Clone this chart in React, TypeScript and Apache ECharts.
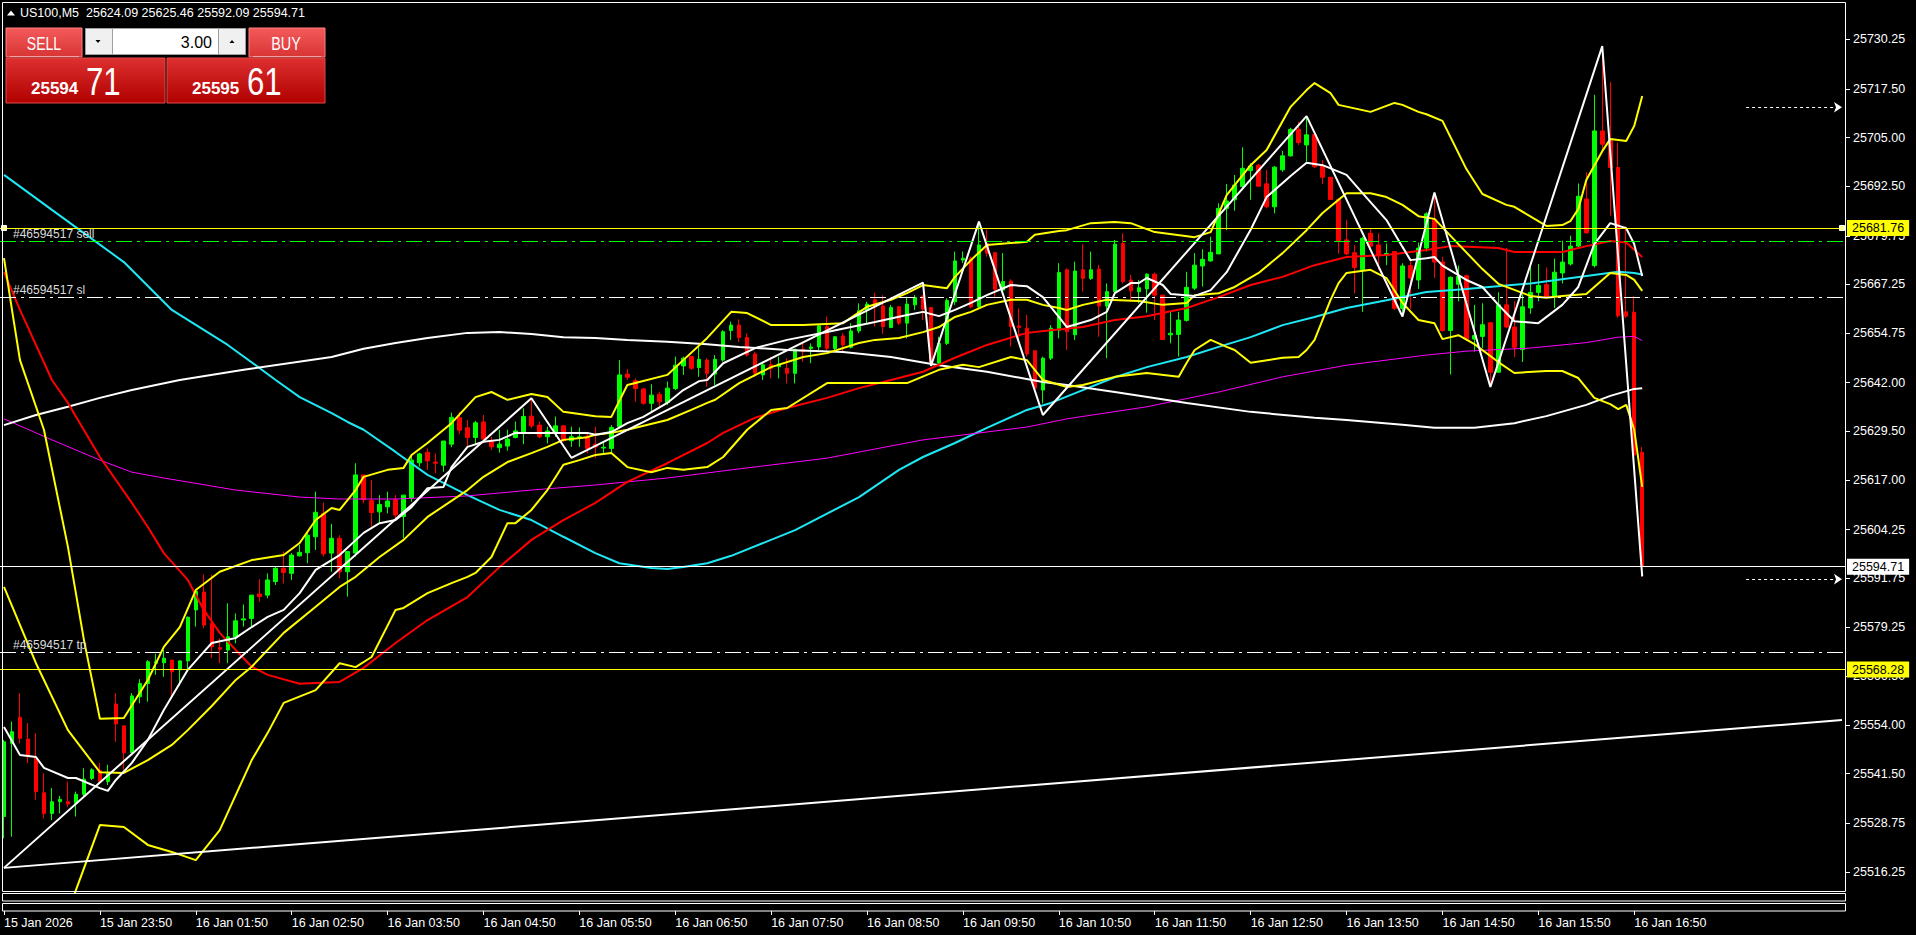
import React, { useEffect, useRef } from 'react';
import * as echarts from 'echarts';

const FONT = '"Liberation Sans", Arial, sans-serif';

// ---------- OHLC (M5 bars, left to right) ----------
const opens = [
  25530.5, 25549.3, 25556.0, 25550.4, 25545.5, 25536.6, 25531.3, 25534.3, 25534.3, 25533.9,
  25536.2, 25540.3, 25542.3, 25539.5, 25559.4, 25553.8, 25546.9, 25561.3, 25564.7, 25569.9,
  25570.0, 25570.7, 25568.2, 25570.5, 25583.6, 25588.2, 25580.2, 25573.9, 25573.3, 25576.7,
  25581.0, 25581.4, 25587.7, 25587.4, 25590.9, 25594.3, 25593.0, 25597.5, 25598.3, 25602.4,
  25608.4, 25598.2, 25602.0, 25593.4, 25598.2, 25618.3, 25611.7, 25608.8, 25610.1, 25611.9,
  25607.6, 25612.3, 25621.4, 25624.1, 25621.6, 25620.8, 25626.2, 25633.0, 25630.4, 25627.9,
  25631.9, 25626.8, 25625.3, 25625.7, 25627.9, 25629.4, 25633.4, 25631.1, 25628.1, 25629.0,
  25630.9, 25627.1, 25627.7, 25628.3, 25626.2, 25625.2, 25625.1, 25630.7, 25644.2, 25642.5,
  25640.4, 25636.7, 25639.0, 25636.9, 25640.5, 25646.3, 25648.7, 25645.9, 25647.8, 25644.2,
  25647.8, 25655.4, 25656.8, 25653.6, 25649.4, 25644.0, 25646.6, 25646.1, 25645.7, 25644.4,
  25650.6, 25650.8, 25651.2, 25656.4, 25650.8, 25654.0, 25651.1, 25655.3, 25660.7, 25663.3,
  25661.7, 25656.2, 25661.5, 25657.3, 25662.0, 25664.3, 25661.3, 25647.0, 25652.1, 25662.8,
  25673.5, 25674.0, 25661.5, 25677.8, 25675.4, 25665.8, 25668.1, 25656.6, 25656.0, 25650.2,
  25640.1, 25648.3, 25655.5, 25671.0, 25654.3, 25671.0, 25668.8, 25671.2, 25661.7, 25665.4,
  25677.8, 25668.4, 25665.4, 25666.1, 25669.9, 25664.5, 25654.3, 25654.4, 25658.0, 25666.3,
  25672.0, 25673.3, 25675.1, 25686.8, 25689.0, 25692.4, 25696.5, 25697.9, 25693.1, 25687.2,
  25696.7, 25700.3, 25707.1, 25703.1, 25705.8, 25697.7, 25694.8, 25689.1, 25678.7, 25675.4,
  25671.1, 25680.4, 25677.4, 25674.8, 25675.7, 25661.1, 25672.1, 25668.4, 25676.6, 25684.0,
  25673.0, 25655.4, 25667.3, 25669.5, 25653.2, 25653.9, 25657.4, 25644.7, 25662.0, 25656.3,
  25650.5, 25661.2, 25665.2, 25667.2, 25664.3, 25670.2, 25672.5, 25677.1, 25689.2, 25672.1,
  25706.7, 25704.2, 25697.3, 25660.2, 25660.1, 25624.09,
];
const highs = [
  25550.2, 25554.9, 25562.2, 25554.5, 25551.9, 25541.6, 25537.8, 25535.8, 25539.5, 25536.9,
  25542.9, 25542.9, 25544.3, 25543.8, 25562.2, 25553.8, 25562.2, 25565.8, 25570.7, 25572.3,
  25573.3, 25570.7, 25570.7, 25581.9, 25588.7, 25592.7, 25592.7, 25576.3, 25585.3, 25582.7,
  25585.0, 25587.4, 25591.5, 25593.0, 25594.7, 25598.6, 25598.2, 25600.3, 25603.3, 25614.0,
  25611.2, 25605.7, 25602.8, 25598.6, 25621.3, 25618.3, 25617.0, 25613.1, 25614.0, 25613.1,
  25613.1, 25623.4, 25624.0, 25625.1, 25623.8, 25627.0, 25634.3, 25634.5, 25632.4, 25632.2,
  25633.7, 25628.1, 25629.9, 25629.9, 25632.0, 25635.4, 25637.6, 25632.0, 25630.7, 25633.3,
  25631.1, 25630.7, 25630.5, 25629.0, 25630.7, 25626.8, 25631.1, 25647.8, 25645.5, 25643.1,
  25640.6, 25641.6, 25639.7, 25642.3, 25648.7, 25648.7, 25648.9, 25651.7, 25648.3, 25649.1,
  25655.5, 25657.7, 25658.3, 25654.7, 25650.0, 25647.4, 25648.7, 25648.7, 25648.3, 25650.6,
  25652.5, 25652.1, 25656.8, 25659.0, 25654.0, 25654.7, 25657.3, 25662.4, 25662.8, 25665.1,
  25664.5, 25662.0, 25661.7, 25664.1, 25664.5, 25664.5, 25661.5, 25653.8, 25663.7, 25675.7,
  25675.7, 25674.4, 25683.4, 25681.4, 25675.4, 25675.3, 25668.6, 25661.1, 25659.4, 25650.4,
  25648.7, 25656.8, 25672.7, 25671.4, 25673.1, 25677.6, 25675.7, 25672.3, 25667.5, 25678.7,
  25680.4, 25669.7, 25668.4, 25670.1, 25670.3, 25664.5, 25660.2, 25660.2, 25670.5, 25675.3,
  25676.3, 25679.5, 25688.1, 25693.1, 25695.4, 25702.5, 25698.4, 25698.2, 25696.7, 25697.7,
  25701.6, 25707.5, 25709.1, 25710.5, 25706.1, 25699.2, 25694.8, 25689.4, 25683.8, 25677.4,
  25679.5, 25681.7, 25680.4, 25677.8, 25675.8, 25672.7, 25673.9, 25678.0, 25685.8, 25690.9,
  25674.4, 25669.3, 25672.1, 25669.8, 25662.0, 25662.4, 25657.6, 25665.2, 25676.6, 25662.9,
  25664.7, 25673.0, 25672.5, 25671.6, 25673.9, 25678.5, 25679.8, 25693.2, 25696.1, 25716.0,
  25728.5, 25719.3, 25703.7, 25682.2, 25664.3, 25625.46,
];
const lows = [
  25524.9, 25525.3, 25549.3, 25544.2, 25534.8, 25530.0, 25529.6, 25531.3, 25533.0, 25530.5,
  25535.6, 25539.9, 25539.0, 25538.6, 25549.7, 25542.5, 25546.8, 25559.6, 25560.0, 25566.9,
  25566.4, 25560.9, 25564.1, 25567.7, 25579.3, 25578.9, 25571.2, 25569.9, 25569.9, 25575.0,
  25579.3, 25579.3, 25585.7, 25586.6, 25590.0, 25590.4, 25591.3, 25597.3, 25595.6, 25599.0,
  25597.3, 25593.4, 25591.7, 25587.0, 25597.3, 25611.0, 25605.0, 25605.9, 25608.4, 25606.7,
  25602.0, 25611.4, 25620.4, 25619.6, 25618.7, 25619.1, 25625.4, 25628.8, 25625.5, 25626.0,
  25626.4, 25624.7, 25624.0, 25624.5, 25627.7, 25626.2, 25630.3, 25627.7, 25626.4, 25628.1,
  25626.8, 25625.5, 25625.5, 25623.8, 25622.6, 25623.8, 25623.8, 25630.3, 25642.7, 25637.1,
  25636.3, 25634.5, 25635.4, 25636.3, 25640.1, 25644.0, 25645.3, 25643.5, 25641.0, 25641.4,
  25647.4, 25653.0, 25652.5, 25648.7, 25643.5, 25642.7, 25643.1, 25643.1, 25641.8, 25641.8,
  25647.4, 25647.0, 25650.4, 25650.4, 25650.4, 25649.6, 25650.8, 25654.7, 25657.3, 25656.4,
  25654.5, 25656.0, 25656.8, 25653.4, 25660.7, 25658.1, 25647.1, 25646.6, 25651.7, 25662.0,
  25672.7, 25661.1, 25661.1, 25674.4, 25663.7, 25665.4, 25651.3, 25652.1, 25648.7, 25640.1,
  25636.7, 25647.8, 25653.4, 25650.4, 25653.0, 25665.4, 25668.4, 25653.8, 25648.3, 25665.0,
  25667.5, 25662.8, 25662.4, 25660.0, 25658.1, 25653.0, 25652.1, 25648.7, 25657.7, 25665.8,
  25666.7, 25673.1, 25675.1, 25681.2, 25686.2, 25691.5, 25689.0, 25692.4, 25686.8, 25685.5,
  25696.2, 25700.1, 25703.1, 25698.8, 25697.1, 25693.0, 25689.0, 25675.2, 25674.8, 25665.0,
  25660.2, 25676.5, 25671.0, 25672.2, 25660.7, 25659.0, 25661.0, 25666.1, 25675.7, 25668.9,
  25655.1, 25644.1, 25662.9, 25652.8, 25650.0, 25650.9, 25640.9, 25644.5, 25656.0, 25648.6,
  25647.3, 25659.7, 25662.9, 25663.8, 25661.2, 25667.5, 25672.1, 25676.8, 25680.3, 25671.6,
  25701.8, 25684.9, 25658.7, 25658.6, 25622.9, 25592.09,
];
const closes = [
  25549.7, 25552.3, 25550.6, 25546.3, 25536.9, 25531.3, 25534.3, 25534.9, 25533.7, 25536.2,
  25540.1, 25542.5, 25539.5, 25541.6, 25554.3, 25546.9, 25561.5, 25564.7, 25570.3, 25570.3,
  25571.2, 25567.7, 25570.5, 25581.7, 25588.4, 25579.7, 25574.1, 25573.5, 25576.7, 25580.8,
  25581.3, 25587.4, 25587.0, 25591.3, 25594.3, 25593.2, 25597.7, 25598.4, 25602.8, 25608.7,
  25598.0, 25602.0, 25593.4, 25598.6, 25618.3, 25611.9, 25608.6, 25610.7, 25611.6, 25608.0,
  25613.1, 25622.1, 25623.7, 25621.9, 25621.3, 25627.0, 25633.1, 25629.8, 25627.9, 25631.7,
  25627.5, 25625.5, 25626.2, 25627.5, 25629.6, 25633.3, 25630.9, 25628.1, 25629.6, 25630.9,
  25627.1, 25628.1, 25628.1, 25625.1, 25625.5, 25625.4, 25630.5, 25644.0, 25643.4, 25640.5,
  25636.7, 25638.8, 25637.1, 25640.6, 25646.5, 25648.3, 25645.7, 25648.0, 25644.4, 25648.0,
  25655.1, 25656.8, 25653.6, 25649.1, 25644.4, 25646.6, 25645.7, 25646.8, 25644.4, 25650.6,
  25650.0, 25651.2, 25656.6, 25650.8, 25653.8, 25651.7, 25655.3, 25660.5, 25662.2, 25661.5,
  25656.4, 25661.3, 25657.3, 25662.2, 25663.9, 25660.9, 25647.4, 25652.1, 25663.1, 25673.3,
  25674.0, 25661.5, 25677.4, 25675.3, 25666.0, 25668.0, 25656.4, 25656.2, 25649.4, 25640.6,
  25648.3, 25656.0, 25670.3, 25655.1, 25670.7, 25668.8, 25671.0, 25661.7, 25665.4, 25677.6,
  25668.0, 25665.6, 25666.4, 25669.9, 25664.5, 25653.1, 25654.7, 25658.1, 25666.5, 25672.2,
  25673.7, 25675.5, 25686.8, 25688.7, 25692.8, 25697.1, 25697.7, 25692.5, 25687.2, 25697.4,
  25700.3, 25707.1, 25703.7, 25705.7, 25697.5, 25694.8, 25689.1, 25678.5, 25675.1, 25671.6,
  25679.1, 25677.1, 25674.8, 25675.2, 25661.1, 25672.0, 25668.9, 25676.6, 25685.4, 25673.0,
  25655.4, 25669.1, 25669.3, 25653.2, 25654.1, 25656.9, 25644.7, 25662.0, 25656.3, 25651.1,
  25661.5, 25665.2, 25667.0, 25664.0, 25670.4, 25673.0, 25677.1, 25689.9, 25680.5, 25706.7,
  25703.3, 25697.3, 25659.2, 25659.1, 25623.4, 25594.71,
];

// ---------- indicator lines: [bar index, price] ----------
const cyanMA = [[0,25695.4],[6,25686.4],[15,25673.0],[21,25660.7],[28,25651.7],[34,25642.7],[37,25638.3],[41,25634.2],[43,25631.9],[45,25629.9],[49,25624.2],[53,25618.3],[58,25613.1],[62,25609.3],[66,25606.7],[70,25602.4],[74,25598.2],[77,25595.6],[81,25594.4],[83,25594.1],[85,25594.6],[88,25595.6],[91,25597.5],[99,25604.1],[107,25612.6],[112,25619.6],[115,25622.9],[119,25626.5],[123,25630.4],[128,25635.0],[131,25636.8],[135,25640.1],[139,25643.4],[143,25646.0],[148,25648.6],[152,25651.2],[156,25653.7],[160,25656.8],[164,25658.9],[168,25661.2],[173,25663.2],[178,25665.3],[183,25666.1],[191,25667.5],[198,25669.4],[202,25670.5],[204,25670.2],[205,25669.8]];
const magentaMA = [[0,25632.7],[6,25627.3],[12,25622.1],[16,25619.0],[20,25617.5],[29,25614.4],[37,25612.6],[42,25612.1],[49,25612.1],[58,25612.9],[66,25614.4],[74,25615.7],[83,25617.5],[88,25618.8],[91,25619.6],[103,25622.6],[115,25627.3],[128,25630.6],[133,25632.7],[143,25635.8],[152,25639.6],[160,25643.5],[168,25646.5],[178,25649.1],[183,25650.1],[191,25650.9],[198,25652.3],[202,25653.7],[204,25653.9],[205,25652.8]];
const slowWhiteMA = [[0,25631.1],[4,25633.7],[8,25635.8],[12,25638.1],[16,25640.1],[22,25642.7],[30,25645.3],[41,25648.6],[45,25650.7],[49,25652.2],[53,25653.5],[58,25654.8],[62,25655.0],[66,25654.5],[70,25653.7],[74,25653.5],[78,25653.0],[83,25652.5],[88,25651.9],[92,25651.2],[98,25650.4],[105,25649.9],[111,25648.6],[117,25646.5],[123,25644.8],[130,25642.2],[133,25641.4],[139,25639.6],[148,25636.8],[156,25634.5],[164,25633.0],[168,25632.4],[175,25631.2],[179,25630.4],[184,25630.4],[189,25631.6],[193,25633.4],[198,25636.3],[201,25638.6],[204,25640.4],[205,25640.6]];
const redMA = [[0,25670.4],[2,25660.7],[6,25642.7],[8,25636.8],[12,25622.9],[16,25611.1],[18,25604.9],[20,25598.2],[23,25591.3],[25,25583.6],[27,25577.7],[29,25573.3],[31,25569.0],[33,25566.9],[37,25564.6],[39,25564.8],[42,25565.1],[45,25568.7],[49,25575.1],[53,25581.0],[58,25586.9],[62,25594.6],[66,25601.6],[70,25606.7],[74,25611.1],[78,25616.5],[83,25621.3],[88,25626.5],[90,25629.1],[94,25633.0],[98,25635.5],[103,25638.1],[107,25640.6],[111,25642.7],[115,25644.8],[119,25648.4],[123,25651.7],[128,25654.8],[131,25655.5],[135,25656.3],[139,25658.1],[143,25659.1],[148,25661.2],[152,25664.0],[156,25667.1],[160,25669.2],[164,25672.2],[168,25674.3],[173,25674.8],[178,25676.1],[181,25677.1],[187,25676.6],[189,25675.6],[195,25675.6],[198,25677.1],[201,25678.4],[203,25678.0],[205,25674.3]];
const fastWhiteMA = [[0,25553.5],[2,25546.3],[4,25545.8],[5,25543.0],[8,25540.4],[9,25540.4],[12,25537.8],[13,25537.1],[14,25539.9],[16,25544.3],[18,25550.2],[20,25557.9],[23,25568.2],[25,25572.8],[26,25575.1],[29,25576.4],[31,25579.2],[33,25581.8],[35,25583.6],[37,25587.9],[39,25593.9],[42,25597.7],[45,25603.4],[47,25605.9],[49,25606.7],[51,25610.0],[53,25614.9],[55,25615.2],[56,25620.3],[58,25625.5],[60,25626.8],[62,25627.3],[64,25629.1],[66,25629.1],[70,25629.1],[73,25629.1],[74,25628.6],[76,25629.3],[78,25631.6],[80,25633.2],[83,25636.8],[85,25640.1],[87,25642.4],[88,25642.7],[90,25647.0],[94,25650.9],[98,25653.0],[103,25655.0],[106,25656.3],[109,25657.6],[113,25659.4],[115,25660.2],[117,25659.1],[119,25660.7],[121,25662.5],[123,25664.5],[126,25667.1],[128,25666.8],[130,25664.0],[132,25658.9],[133,25656.3],[136,25658.1],[138,25660.2],[139,25665.0],[141,25667.6],[142,25667.6],[143,25668.9],[145,25667.1],[146,25664.8],[149,25664.3],[151,25665.8],[153,25670.4],[156,25681.3],[158,25689.7],[161,25695.1],[163,25698.5],[165,25697.9],[168,25695.4],[170,25690.7],[173,25683.8],[175,25676.9],[176,25673.5],[178,25674.0],[179,25674.3],[180,25672.1],[183,25668.4],[185,25666.6],[187,25662.0],[189,25657.8],[192,25657.3],[195,25662.0],[197,25666.6],[199,25677.6],[201,25683.0],[203,25681.7],[204,25677.6],[205,25669.4]];
const bandUpper = [[0,25674.0],[1,25660.7],[2,25647.8],[5,25629.9],[8,25599.8],[10,25575.9],[12,25555.6],[15,25555.8],[18,25565.6],[20,25574.1],[22,25579.2],[24,25588.7],[27,25593.4],[31,25596.4],[35,25597.7],[37,25600.8],[39,25606.7],[41,25609.8],[42,25609.3],[44,25614.4],[45,25617.8],[48,25619.6],[50,25620.1],[51,25623.4],[53,25626.5],[56,25631.6],[59,25638.3],[61,25639.6],[63,25637.6],[66,25639.1],[68,25638.3],[70,25634.5],[74,25633.4],[76,25633.2],[78,25641.4],[79,25641.9],[83,25644.0],[85,25647.8],[88,25653.5],[91,25660.2],[93,25659.9],[96,25656.8],[100,25656.8],[105,25657.3],[108,25661.5],[111,25663.3],[113,25665.0],[115,25667.1],[118,25666.3],[119,25669.2],[121,25673.5],[123,25677.4],[126,25677.9],[128,25678.2],[129,25680.0],[132,25681.0],[133,25681.2],[136,25683.0],[139,25683.3],[141,25683.0],[144,25680.7],[149,25679.4],[151,25680.7],[153,25690.2],[156,25697.9],[158,25701.8],[161,25712.9],[163,25717.2],[164,25719.0],[166,25716.4],[167,25713.4],[171,25711.6],[174,25713.9],[175,25713.4],[177,25711.6],[178,25711.0],[180,25709.3],[183,25696.9],[185,25690.5],[188,25687.7],[189,25687.2],[193,25682.3],[195,25682.5],[196,25683.5],[197,25686.6],[198,25694.1],[200,25701.5],[201,25704.6],[203,25704.1],[204,25708.0],[205,25715.7]];
const bandMiddle = [[0,25589.5],[4,25569.9],[8,25552.7],[12,25541.9],[15,25541.7],[18,25545.0],[21,25548.9],[23,25552.7],[26,25558.9],[29,25565.6],[31,25569.0],[35,25577.7],[39,25584.4],[42,25589.5],[44,25592.1],[47,25597.2],[50,25601.6],[53,25607.5],[58,25614.4],[60,25617.8],[63,25621.6],[66,25623.9],[68,25625.5],[70,25627.3],[73,25628.0],[74,25628.6],[76,25629.1],[78,25629.9],[83,25632.4],[86,25635.0],[88,25636.8],[89,25637.6],[92,25641.9],[96,25646.0],[100,25648.6],[103,25649.6],[107,25652.2],[109,25653.0],[112,25653.5],[115,25655.0],[117,25656.3],[119,25658.9],[121,25660.2],[123,25662.0],[126,25663.3],[128,25663.3],[130,25662.0],[132,25661.2],[133,25660.7],[135,25662.0],[138,25663.3],[142,25663.0],[145,25662.0],[148,25662.5],[149,25664.5],[152,25665.0],[154,25666.6],[157,25670.2],[160,25675.3],[163,25681.2],[165,25685.6],[167,25689.0],[168,25690.7],[171,25690.7],[173,25689.7],[175,25687.7],[177,25684.8],[179,25684.1],[182,25677.6],[185,25671.2],[187,25667.4],[191,25664.3],[193,25663.8],[195,25664.3],[198,25664.8],[200,25668.4],[201,25670.2],[203,25669.7],[204,25668.4],[205,25665.6]];
const bandLower = [[0,25505.0],[4,25505.0],[8,25505.7],[9,25511.6],[12,25528.3],[15,25527.8],[18,25523.2],[21,25521.4],[24,25519.3],[27,25527.0],[31,25545.0],[33,25552.0],[35,25559.7],[39,25563.0],[42,25569.9],[44,25568.9],[46,25571.5],[49,25583.6],[50,25584.1],[53,25587.9],[56,25590.5],[58,25592.1],[59,25593.1],[61,25597.2],[63,25605.9],[64,25605.9],[66,25609.3],[68,25614.4],[70,25620.9],[72,25622.1],[74,25623.4],[76,25623.9],[78,25620.3],[81,25619.0],[83,25620.1],[85,25619.6],[88,25620.3],[90,25622.9],[93,25629.9],[96,25635.0],[98,25635.5],[103,25641.9],[107,25641.9],[113,25641.9],[117,25645.3],[120,25646.6],[122,25646.0],[126,25648.6],[128,25647.8],[130,25642.7],[133,25640.9],[135,25641.4],[139,25643.5],[143,25644.5],[147,25643.5],[148,25647.1],[149,25650.4],[151,25653.0],[153,25651.2],[154,25650.4],[156,25647.1],[160,25648.4],[162,25648.6],[163,25650.4],[164,25653.0],[166,25663.3],[167,25667.6],[168,25670.2],[171,25671.0],[173,25668.9],[175,25662.5],[177,25658.1],[179,25657.3],[180,25653.2],[182,25654.2],[184,25651.9],[187,25647.3],[189,25644.5],[193,25645.0],[195,25645.0],[197,25643.2],[199,25638.1],[201,25636.5],[202,25635.2],[203,25636.3],[204,25629.9],[205,25615.2]];
const zigzag = [[0,25517.3],[66,25638.0],[71,25622.7],[115,25667.7],[116,25646.3],[122,25683.4],[130,25633.7],[163,25710.5],[175,25659.0],[179,25690.9],[186,25640.9],[200,25728.5],[205,25592.2]];
const trendLine = [[0,25517.3],[230,25555.3]];

// ---------- levels & axis ----------
const yTicks = [25730.25, 25717.5, 25705.0, 25692.5, 25679.75, 25667.25, 25654.75, 25642.0, 25629.5, 25617.0, 25604.25, 25591.75, 25579.25, 25566.5, 25554.0, 25541.5, 25528.75, 25516.25];
const tickLabels = ['15 Jan 2026', '15 Jan 23:50', '16 Jan 01:50', '16 Jan 02:50', '16 Jan 03:50', '16 Jan 04:50', '16 Jan 05:50', '16 Jan 06:50', '16 Jan 07:50', '16 Jan 08:50', '16 Jan 09:50', '16 Jan 10:50', '16 Jan 11:50', '16 Jan 12:50', '16 Jan 13:50', '16 Jan 14:50', '16 Jan 15:50', '16 Jan 16:50'];
const upperLevel = 25681.76;
const sellLevel = 25678.45;
const slLevel = 25664.0;
const bidLevel = 25594.71;
const tpLevel = 25572.7;
const lowerLevel = 25568.28;
const arrowLevels = [25712.8, 25591.5];
const headerText = 'US100,M5  25624.09 25625.46 25592.09 25594.71';
const Y_MIN = 25511.1;
const Y_MAX = 25739.84;
const SLOTS = 231;

const pad = (n: number) => (n < 10 ? '0' + n : '' + n);
const categories: string[] = [];
for (let i = 0; i < SLOTS; i++) {
  if (i < 14) {
    const m = 22 * 60 + 50 + i * 5;
    categories.push(`15 Jan ${pad(Math.floor(m / 60))}:${pad(m % 60)}`);
  } else if (i < opens.length) {
    const m = 60 + (i - 14) * 5;
    categories.push(`16 Jan ${pad(Math.floor(m / 60))}:${pad(m % 60)}`);
  } else categories.push('');
}

const tickShown = (idx: number) => idx % 12 === 0 && idx / 12 < tickLabels.length;

function levelLabel(text: string) {
  return {
    show: true,
    position: 'insideStartTop',
    formatter: text,
    color: '#dcdcdc',
    fontFamily: FONT,
    fontSize: 12,
    distance: 1,
    padding: [0, 0, 0, 12],
  };
}
function priceBox(text: string, bg: string) {
  return {
    show: true,
    position: 'end',
    formatter: text,
    color: '#000',
    backgroundColor: bg,
    fontFamily: FONT,
    fontSize: 12.5,
    padding: [2, 5, 1, 5],
    distance: 1,
  };
}
const dashDot = [16, 5, 3, 5];

function lineSeries(data: number[][], color: string, width: number) {
  return {
    type: 'line',
    xAxisIndex: 0,
    yAxisIndex: 0,
    data,
    symbol: 'none',
    showSymbol: false,
    silent: true,
    lineStyle: { color, width },
    z: 3,
  };
}

function grad(top: string, bottom: string) {
  return new echarts.graphic.LinearGradient(0, 0, 0, 1, [
    { offset: 0, color: top },
    { offset: 1, color: bottom },
  ]);
}

function buildOption() {
  const candleData = opens.map((o, i) => [o, closes[i], lows[i], highs[i]]);

  const markLineData: any[] = [
    { yAxis: upperLevel, lineStyle: { color: '#ffff00', width: 1, type: 'solid' }, label: priceBox('25681.76', '#ffff00') },
    { yAxis: sellLevel, lineStyle: { color: '#00ff00', width: 1, type: dashDot }, label: levelLabel('#46594517 sell') },
    { yAxis: slLevel, lineStyle: { color: '#ffffff', width: 1, type: dashDot }, label: levelLabel('#46594517 sl') },
    { yAxis: bidLevel, lineStyle: { color: '#ffffff', width: 1, type: 'solid' }, label: priceBox('25594.71', '#ffffff') },
    { yAxis: tpLevel, lineStyle: { color: '#ffffff', width: 1, type: dashDot }, label: levelLabel('#46594517 tp') },
    { yAxis: lowerLevel, lineStyle: { color: '#ffff00', width: 1, type: 'solid' }, label: priceBox('25568.28', '#ffff00') },
  ];
  arrowLevels.forEach((lv) => {
    markLineData.push([
      { coord: [218, lv], symbol: 'none', lineStyle: { color: '#ffffff', width: 1, type: [3, 3] }, label: { show: false } },
      { coord: [230, lv], symbol: 'arrow', symbolSize: 8, lineStyle: { color: '#ffffff', width: 1, type: [3, 3] }, label: { show: false } },
    ]);
  });

  const white = '#ffffff';
  const graphic: any[] = [
    // chart frame and empty sub-windows
    { type: 'rect', silent: true, z: 50, shape: { x: 2.5, y: 2.5, width: 1843, height: 889 }, style: { fill: 'none', stroke: white, lineWidth: 1 } },
    { type: 'rect', silent: true, z: 50, shape: { x: 2.5, y: 893.5, width: 1843, height: 7.5 }, style: { fill: 'none', stroke: white, lineWidth: 1 } },
    { type: 'rect', silent: true, z: 50, shape: { x: 2.5, y: 903.5, width: 1843, height: 7.5 }, style: { fill: 'none', stroke: white, lineWidth: 1 } },
    // header
    { type: 'polygon', silent: true, z: 60, shape: { points: [[7, 15.5], [11, 10.5], [15, 15.5]] }, style: { fill: white } },
    { type: 'text', silent: true, z: 60, x: 20, y: 13, style: { text: headerText, fill: white, font: `12.5px ${FONT}`, verticalAlign: 'middle', textVerticalAlign: 'middle' } },
    // trade panel
    { type: 'rect', silent: true, z: 60, shape: { x: 6, y: 28, width: 76, height: 29 }, style: { fill: grad('#f45a5a', '#d83434'), stroke: '#ff8080', lineWidth: 1 } },
    { type: 'line', silent: true, z: 61, shape: { x1: 10, y1: 56.5, x2: 79, y2: 56.5 }, style: { stroke: '#f6a0a0', lineWidth: 1 } },
    { type: 'text', silent: true, z: 61, x: 44, y: 43, scaleX: 0.78, style: { text: 'SELL', fill: white, font: `18px ${FONT}`, align: 'center', textAlign: 'center', verticalAlign: 'middle', textVerticalAlign: 'middle' } },
    { type: 'rect', silent: true, z: 60, shape: { x: 85.5, y: 28.5, width: 27, height: 26 }, style: { fill: '#f0f0f0', stroke: '#a0a0a0', lineWidth: 1 } },
    { type: 'polygon', silent: true, z: 61, shape: { points: [[95.5, 40], [100.5, 40], [98, 43]] }, style: { fill: '#000' } },
    { type: 'rect', silent: true, z: 60, shape: { x: 112.5, y: 28.5, width: 106, height: 26 }, style: { fill: '#ffffff', stroke: '#a0a0a0', lineWidth: 1 } },
    { type: 'text', silent: true, z: 61, x: 212, y: 42, style: { text: '3.00', fill: '#000', font: `16px ${FONT}`, align: 'right', textAlign: 'right', verticalAlign: 'middle', textVerticalAlign: 'middle' } },
    { type: 'rect', silent: true, z: 60, shape: { x: 218.5, y: 28.5, width: 27, height: 26 }, style: { fill: '#f0f0f0', stroke: '#a0a0a0', lineWidth: 1 } },
    { type: 'polygon', silent: true, z: 61, shape: { points: [[229.5, 43], [234.5, 43], [232, 40]] }, style: { fill: '#000' } },
    { type: 'rect', silent: true, z: 60, shape: { x: 249, y: 28, width: 76, height: 29 }, style: { fill: grad('#f45a5a', '#d83434'), stroke: '#ff8080', lineWidth: 1 } },
    { type: 'line', silent: true, z: 61, shape: { x1: 253, y1: 56.5, x2: 321, y2: 56.5 }, style: { stroke: '#f6a0a0', lineWidth: 1 } },
    { type: 'text', silent: true, z: 61, x: 286, y: 43, scaleX: 0.8, style: { text: 'BUY', fill: white, font: `18px ${FONT}`, align: 'center', textAlign: 'center', verticalAlign: 'middle', textVerticalAlign: 'middle' } },
    { type: 'rect', silent: true, z: 60, shape: { x: 6, y: 58, width: 159, height: 45 }, style: { fill: grad('#de3030', '#b00000'), stroke: '#e04848', lineWidth: 1 } },
    { type: 'rect', silent: true, z: 60, shape: { x: 167, y: 58, width: 158, height: 45 }, style: { fill: grad('#de3030', '#b00000'), stroke: '#e04848', lineWidth: 1 } },
    { type: 'text', silent: true, z: 61, x: 31, y: 88, style: { text: '25594', fill: white, font: `bold 17px ${FONT}`, verticalAlign: 'middle', textVerticalAlign: 'middle' } },
    { type: 'text', silent: true, z: 61, x: 86, y: 81, scaleX: 0.8, style: { text: '71', fill: white, font: `39px ${FONT}`, verticalAlign: 'middle', textVerticalAlign: 'middle' } },
    { type: 'text', silent: true, z: 61, x: 192, y: 88, style: { text: '25595', fill: white, font: `bold 17px ${FONT}`, verticalAlign: 'middle', textVerticalAlign: 'middle' } },
    { type: 'text', silent: true, z: 61, x: 247, y: 81, scaleX: 0.8, style: { text: '61', fill: white, font: `39px ${FONT}`, verticalAlign: 'middle', textVerticalAlign: 'middle' } },
  ];

  return {
    animation: false,
    backgroundColor: '#000000',
    grid: [
      { left: -1, top: 2, width: 1847, height: 890 },
      { left: -1, top: 904, width: 1847, height: 7 },
    ],
    xAxis: [
      {
        type: 'category', gridIndex: 0, data: categories, boundaryGap: true,
        axisLine: { show: false }, axisTick: { show: false }, axisLabel: { show: false }, splitLine: { show: false },
      },
      {
        type: 'category', gridIndex: 1, data: categories, boundaryGap: true,
        axisLine: { show: false },
        axisTick: { show: true, alignWithLabel: true, length: 4, interval: (i: number) => tickShown(i), lineStyle: { color: white } },
        axisLabel: {
          show: true, interval: (i: number) => tickShown(i), align: 'left', margin: 5,
          color: white, fontFamily: FONT, fontSize: 12.5,
          formatter: (_v: string, i: number) => (tickShown(i) ? tickLabels[i / 12] : ''),
        },
        splitLine: { show: false },
      },
    ],
    yAxis: [
      {
        type: 'value', gridIndex: 0, position: 'right', min: Y_MIN, max: Y_MAX, scale: true,
        splitLine: { show: false },
        axisLine: { show: false },
        axisTick: { show: true, length: 4, lineStyle: { color: white }, customValues: yTicks },
        axisLabel: {
          show: true, customValues: yTicks, margin: 7, color: white, fontFamily: FONT, fontSize: 12.5,
          formatter: (v: number) => v.toFixed(2),
        },
      },
      { type: 'value', gridIndex: 1, min: 0, max: 1, show: false },
    ],
    series: [
      {
        type: 'candlestick', xAxisIndex: 0, yAxisIndex: 0, data: candleData, barWidth: 4, silent: true, z: 2,
        itemStyle: { color: '#00ff00', color0: '#ff0000', borderColor: '#00ff00', borderColor0: '#ff0000', borderWidth: 1 },
        markLine: { silent: true, symbol: ['none', 'none'], animation: false, data: markLineData },
        markPoint: {
          silent: true, symbol: 'rect', symbolSize: 5, animation: false,
          itemStyle: { color: '#ffff90', borderColor: '#ffffff', borderWidth: 1 },
          label: { show: false },
          data: [{ coord: [0, upperLevel] }, { coord: [230, upperLevel] }],
        },
      },
      lineSeries(cyanMA, '#1ee8f4', 2),
      lineSeries(magentaMA, '#ff00ff', 1),
      lineSeries(slowWhiteMA, '#ffffff', 2),
      lineSeries(redMA, '#ff0000', 2),
      lineSeries(bandUpper, '#ffff00', 2),
      lineSeries(bandMiddle, '#ffff00', 2),
      lineSeries(bandLower, '#ffff00', 2),
      lineSeries(fastWhiteMA, '#ffffff', 2),
      lineSeries(zigzag, '#ffffff', 2),
      lineSeries(trendLine, '#ffffff', 2),
    ],
    graphic,
  };
}

export default function App() {
  const ref = useRef<HTMLDivElement>(null);
  useEffect(() => {
    document.body.style.margin = '0';
    document.body.style.background = '#000';
    const chart = echarts.init(ref.current as HTMLDivElement, null, { renderer: 'svg' });
    chart.setOption(buildOption() as any);
    return () => chart.dispose();
  }, []);
  return (
    <div
      ref={ref}
      style={{ position: 'absolute', left: 0, top: 0, width: 1916, height: 935, background: '#000' }}
    />
  );
}
